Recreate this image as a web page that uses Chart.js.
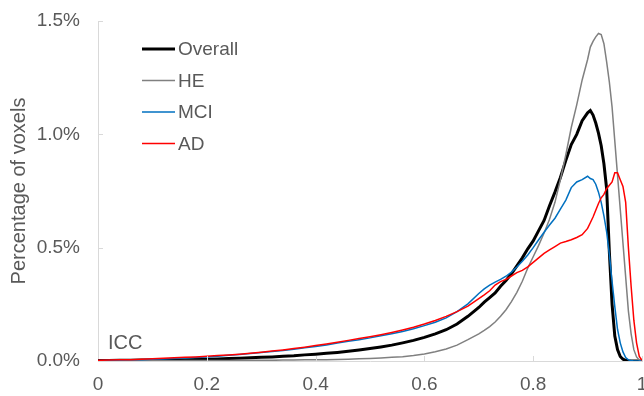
<!DOCTYPE html>
<html>
<head>
<meta charset="utf-8">
<script src="https://cdn.jsdelivr.net/npm/chart.js@4"></script>
<style>
  body { margin: 0; background: #fff; }
  #wrap { width: 644px; height: 396px; position: relative; }
</style>
</head>
<body>
<div id="wrap"><canvas id="iccChart"></canvas></div>
<script>
// ICC bins (x)
const icc = [
    0, 0.02, 0.04, 0.06, 0.08, 0.10, 0.12, 0.14, 0.16, 0.18,
    0.20, 0.22, 0.24, 0.26, 0.28, 0.30, 0.32, 0.34, 0.36, 0.38,
    0.40, 0.42, 0.44, 0.46, 0.48, 0.50, 0.52, 0.54, 0.56, 0.58,
    0.60, 0.62, 0.64, 0.66, 0.68, 0.70,
    0.71, 0.72, 0.73, 0.74, 0.75, 0.76, 0.77, 0.78, 0.79, 0.80,
    0.81, 0.82, 0.83, 0.84, 0.85, 0.86, 0.87, 0.88, 0.89, 0.90,
    0.905, 0.91, 0.915, 0.92, 0.925, 0.93, 0.935, 0.94, 0.945, 0.95,
    0.955, 0.96, 0.965, 0.97, 0.975, 0.98, 0.985, 0.99, 0.995, 1.0
];

// % of voxels per series
const overall = [
    0.002, 0.002, 0.003, 0.003, 0.004, 0.004, 0.005, 0.006, 0.006, 0.007,
    0.008, 0.009, 0.011, 0.012, 0.014, 0.016, 0.018, 0.021, 0.023, 0.027,
    0.030, 0.034, 0.038, 0.043, 0.049, 0.055, 0.062, 0.070, 0.080, 0.091,
    0.104, 0.120, 0.138, 0.163, 0.197, 0.236,
    0.260, 0.280, 0.300, 0.330, 0.355, 0.385, 0.420, 0.455, 0.495, 0.530,
    0.575, 0.620, 0.685, 0.745, 0.810, 0.885, 0.955, 1.000, 1.060, 1.095,
    1.105, 1.085, 1.050, 1.005, 0.950, 0.870, 0.760, 0.480, 0.250, 0.110,
    0.050, 0.020, 0.008, 0.003, 0.001, 0, 0, 0, 0, 0
];
const he = [
    0.001, 0.001, 0.001, 0.001, 0.001, 0.001, 0.001, 0.001, 0.002, 0.002,
    0.002, 0.002, 0.002, 0.003, 0.003, 0.003, 0.003, 0.004, 0.004, 0.005,
    0.005, 0.006, 0.007, 0.008, 0.010, 0.011, 0.013, 0.016, 0.019, 0.024,
    0.031, 0.041, 0.053, 0.070, 0.094, 0.120,
    0.135, 0.152, 0.172, 0.197, 0.226, 0.262, 0.303, 0.352, 0.410, 0.460,
    0.510, 0.565, 0.625, 0.700, 0.800, 0.910, 1.030, 1.130, 1.240, 1.330,
    1.385, 1.410, 1.430, 1.445, 1.440, 1.400, 1.320, 1.230, 1.120, 0.970,
    0.820, 0.670, 0.520, 0.370, 0.220, 0.120, 0.050, 0.018, 0.004, 0
];
const mci = [
    0.002, 0.003, 0.004, 0.005, 0.006, 0.008, 0.009, 0.011, 0.013, 0.015,
    0.018, 0.021, 0.025, 0.029, 0.033, 0.037, 0.042, 0.046, 0.052, 0.058,
    0.064, 0.071, 0.079, 0.087, 0.094, 0.102, 0.111, 0.120, 0.130, 0.142,
    0.156, 0.171, 0.190, 0.218, 0.252, 0.298,
    0.318, 0.335, 0.348, 0.360, 0.374, 0.392, 0.415, 0.440, 0.468, 0.500,
    0.535, 0.568, 0.600, 0.630, 0.670, 0.710, 0.765, 0.790, 0.800, 0.815,
    0.805, 0.800, 0.780, 0.745, 0.700, 0.640, 0.570, 0.470, 0.350, 0.240,
    0.140, 0.080, 0.040, 0.015, 0.005, 0.002, 0, 0, 0, 0
];
const ad = [
    0.003, 0.004, 0.005, 0.006, 0.008, 0.010, 0.012, 0.014, 0.016, 0.018,
    0.021, 0.024, 0.027, 0.030, 0.034, 0.039, 0.044, 0.049, 0.055, 0.061,
    0.068, 0.075, 0.083, 0.091, 0.099, 0.107, 0.116, 0.126, 0.137, 0.149,
    0.163, 0.179, 0.197, 0.218, 0.242, 0.275,
    0.292, 0.310, 0.335, 0.350, 0.360, 0.375, 0.390, 0.400, 0.415, 0.435,
    0.455, 0.475, 0.490, 0.505, 0.520, 0.527, 0.535, 0.545, 0.557, 0.585,
    0.610, 0.635, 0.665, 0.695, 0.720, 0.735, 0.760, 0.775, 0.790, 0.830,
    0.830, 0.800, 0.770, 0.700, 0.500, 0.330, 0.180, 0.080, 0.020, 0.003
];

const yTicks = [0, 0.5, 1.0, 1.5];
const xTicks = [0, 0.2, 0.4, 0.6, 0.8, 1.0];

const FONT = '"Liberation Sans", Arial, sans-serif';
const TEXT_COLOR = '#595959';
const AXIS_COLOR = '#d9d9d9';

const toPoints = (arr) => icc.map((x, i) => ({ x: x, y: arr[i] }));

// legend drawn inside the plot, top-left
const innerLegend = {
    id: 'innerLegend',
    afterDraw(chart) {
        const ctx = chart.ctx;
        ctx.save();
        ctx.font = '19px ' + FONT;
        ctx.textBaseline = 'middle';
        ctx.textAlign = 'left';
        chart.data.datasets.forEach((ds, i) => {
            const y = 49 + i * 31.5;
            ctx.strokeStyle = ds.borderColor;
            ctx.lineWidth = ds.borderWidth;
            ctx.beginPath();
            ctx.moveTo(142, y);
            ctx.lineTo(175, y);
            ctx.stroke();
            ctx.fillStyle = TEXT_COLOR;
            ctx.fillText(ds.label, 178, y + 1);
        });
        // "ICC" label
        ctx.font = '20px ' + FONT;
        ctx.fillText('ICC', chart.chartArea.left + 10, chart.chartArea.bottom - 18);
        ctx.restore();
    }
};

// little inward tick marks on the axes
const innerTicks = {
    id: 'innerTicks',
    afterDraw(chart) {
        const ctx = chart.ctx;
        const area = chart.chartArea;
        const xs = chart.scales.x, ys = chart.scales.y;
        ctx.save();
        ctx.strokeStyle = AXIS_COLOR;
        ctx.lineWidth = 1;
        ctx.beginPath();
        yTicks.forEach(v => {
            if (v === 0) return;
            const py = Math.round(ys.getPixelForValue(v)) + 0.5;
            ctx.moveTo(area.left, py);
            ctx.lineTo(area.left + 5, py);
        });
        xTicks.forEach(v => {
            if (v === 0) return;
            const px = Math.round(xs.getPixelForValue(v)) + 0.5;
            ctx.moveTo(px, area.bottom);
            ctx.lineTo(px, area.bottom - 5);
        });
        ctx.stroke();
        ctx.restore();
    }
};

new Chart(document.getElementById('iccChart'), {
    type: 'line',
    data: {
        datasets: [
            { label: 'Overall', data: toPoints(overall), borderColor: '#000000', borderWidth: 3, order: 3 },
            { label: 'HE', data: toPoints(he), borderColor: '#808080', borderWidth: 1.5, order: 2 },
            { label: 'MCI', data: toPoints(mci), borderColor: '#0070c0', borderWidth: 1.5, order: 1 },
            { label: 'AD', data: toPoints(ad), borderColor: '#ff0000', borderWidth: 1.5, order: 0 }
        ]
    },
    options: {
        responsive: true,
        maintainAspectRatio: false,
        animation: false,
        layout: { padding: { top: 21, right: 2, left: 0, bottom: 0 } },
        elements: {
            point: { radius: 0 },
            line: { tension: 0, fill: false }
        },
        plugins: {
            legend: { display: false },
            tooltip: { enabled: false }
        },
        scales: {
            x: {
                type: 'linear',
                min: 0,
                max: 1,
                grid: { display: false, drawTicks: false },
                border: { display: true, color: AXIS_COLOR, width: 1 },
                ticks: {
                    stepSize: 0.2,
                    padding: 12,
                    maxRotation: 0,
                    autoSkip: false,
                    color: TEXT_COLOR,
                    font: { family: FONT, size: 19 },
                    callback: (v) => String(Number(v.toFixed(1)))
                },
                afterFit(scale) {
                    scale.height = 35;
                    scale.paddingLeft = 0;
                    scale.paddingRight = 0;
                }
            },
            y: {
                min: 0,
                max: 1.5,
                grid: { display: false, drawTicks: false },
                border: { display: true, color: AXIS_COLOR, width: 1 },
                ticks: {
                    stepSize: 0.5,
                    padding: 18,
                    color: TEXT_COLOR,
                    font: { family: FONT, size: 19 },
                    callback: (v) => v.toFixed(1) + '%'
                },
                title: {
                    display: true,
                    text: 'Percentage of voxels',
                    color: TEXT_COLOR,
                    font: { family: FONT, size: 20 },
                    padding: { top: 7, bottom: 0 }
                },
                afterFit(scale) {
                    scale.width = 98;
                    scale.paddingTop = 0;
                    scale.paddingBottom = 0;
                }
            }
        }
    },
    plugins: [innerLegend, innerTicks]
});
</script>
</body>
</html>
